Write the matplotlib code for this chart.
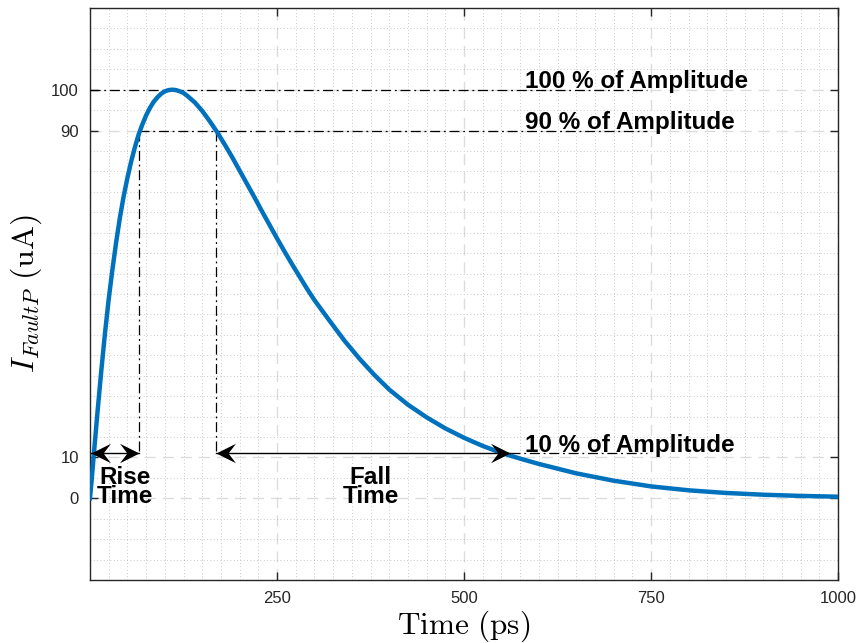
import matplotlib.pyplot as plt
import numpy as np
from matplotlib.path import Path
from matplotlib.ticker import FixedLocator

plt.rcParams['mathtext.fontset'] = 'cm'
plt.rcParams['font.family'] = ['Liberation Sans', 'DejaVu Sans']

# fault current pulse (ps, uA)
time_ps = [0, 2.5, 5, 10, 15, 20, 25, 30, 35, 40, 45, 50, 55, 60, 65, 70,
           75, 80, 85, 90, 95, 100, 105, 110, 115, 120, 125, 130, 140, 150,
           160, 170, 180, 190, 200, 210, 220, 230, 240, 250, 260, 270, 280,
           290, 300, 320, 340, 360, 380, 400, 425, 450, 475, 500, 525, 550,
           575, 600, 650, 700, 750, 800, 850, 900, 950, 1000]
current_ua = [0, 5, 10.5, 21, 31, 40.3, 48.7, 56, 62.7, 68.7, 73.9, 78.4,
              82.4, 85.9, 89.0, 91.5, 93.7, 95.5, 97.0, 98.1, 99.0, 99.6,
              99.9, 100, 99.9, 99.6, 99.2, 98.5, 96.9, 94.8, 92.3, 89.6,
              86.6, 83.5, 80.2, 76.9, 73.6, 70.2, 66.9, 63.6, 60.4, 57.3,
              54.3, 51.3, 48.5, 43.5, 38.6, 34.2, 30.2, 26.6, 22.9, 19.8,
              17.1, 14.8, 12.8, 11.1, 9.7, 8.4, 6.1, 4.3, 2.9, 1.95, 1.3,
              0.87, 0.58, 0.38]

# annotation levels / times
t_rise_10, t_rise_90 = 1.5, 66
t_fall_90, t_fall_10 = 168, 562
t_line_end = 745
lvl_100, lvl_90, lvl_10 = 100, 90, 11

xticks = [250, 500, 750, 1000]
yticks = [0, 10, 90, 100]

fig = plt.figure(figsize=(8.57, 6.43), dpi=100)
ax = fig.add_axes([0.105, 0.098, 0.873, 0.8896])

ax.set_xlim(0, 1000)
ax.set_ylim(-20, 120)
ax.set_xticks(xticks)
ax.set_yticks(yticks)
ax.xaxis.set_minor_locator(FixedLocator(np.arange(25, 1000, 25)))
ax.yaxis.set_minor_locator(FixedLocator(np.arange(-15, 120, 5)))

ax.grid(which='minor', color='#b8b8b8', linestyle=(0, (1, 3)), linewidth=0.6)
ax.grid(which='major', color='#dcdcdc', linestyle=(0, (8, 5)), linewidth=1.0)
ax.set_axisbelow(True)

ax.tick_params(which='major', direction='in', length=6, width=1, top=True,
               right=True, labelsize=12, colors='#262626', pad=8)
ax.tick_params(which='minor', length=0)
for s in ax.spines.values():
    s.set_color('#262626')
    s.set_linewidth(1)

ax.plot(time_ps, current_ua, color='#0072BD', linewidth=3.2, zorder=5,
        solid_joinstyle='round')

dd = dict(color='black', linewidth=0.9, linestyle=(0, (8, 3, 1.5, 3)), zorder=4)
ax.plot([0, t_line_end], [lvl_100, lvl_100], **dd)
ax.plot([t_rise_90, t_line_end], [lvl_90, lvl_90], **dd)
ax.plot([t_rise_90, t_rise_90], [lvl_90, lvl_10], **dd)
ax.plot([t_fall_90, t_fall_90], [lvl_90, lvl_10], **dd)
ax.plot([t_fall_10, t_line_end], [lvl_10, lvl_10], **dd)

# MATLAB-like swept-back arrow heads (tip at the marker origin)
head_r = Path([(0, 0), (-1, 0.5), (-0.62, 0), (-1, -0.5), (0, 0)],
              [Path.MOVETO, Path.LINETO, Path.LINETO, Path.LINETO, Path.CLOSEPOLY])
head_l = Path([(0, 0), (1, 0.5), (0.62, 0), (1, -0.5), (0, 0)],
              [Path.MOVETO, Path.LINETO, Path.LINETO, Path.LINETO, Path.CLOSEPOLY])

for t0, t1 in [(t_rise_10, t_rise_90), (t_fall_90, t_fall_10)]:
    ax.plot([t0, t1], [lvl_10, lvl_10], color='black', linewidth=1, zorder=6)
    ax.plot([t0], [lvl_10], marker=head_l, markersize=28, color='black',
            markeredgewidth=0, zorder=6)
    ax.plot([t1], [lvl_10], marker=head_r, markersize=28, color='black',
            markeredgewidth=0, zorder=6)

tk = dict(fontsize=17.5, fontweight='bold', color='black', zorder=7)
ax.text(582, lvl_100 + 0.5, '100 % of Amplitude', ha='left', va='baseline', **tk)
ax.text(582, lvl_90 + 0.5, '90 % of Amplitude', ha='left', va='baseline', **tk)
ax.text(582, lvl_10 + 0.3, '10 % of Amplitude', ha='left', va='baseline', **tk)
ax.text(47, 8, 'Rise\nTime', ha='center', va='top', linespacing=0.82, **tk)
ax.text(375, 8, 'Fall\nTime', ha='center', va='top', linespacing=0.82, **tk)

ax.set_xlabel(r'$\mathrm{Time\ (ps)}$', fontsize=22.5, labelpad=2)
ax.set_ylabel(r'$I_{FaultP}\ \mathrm{(uA)}$', fontsize=23, labelpad=5)

fig.savefig('out.png', dpi=100)
